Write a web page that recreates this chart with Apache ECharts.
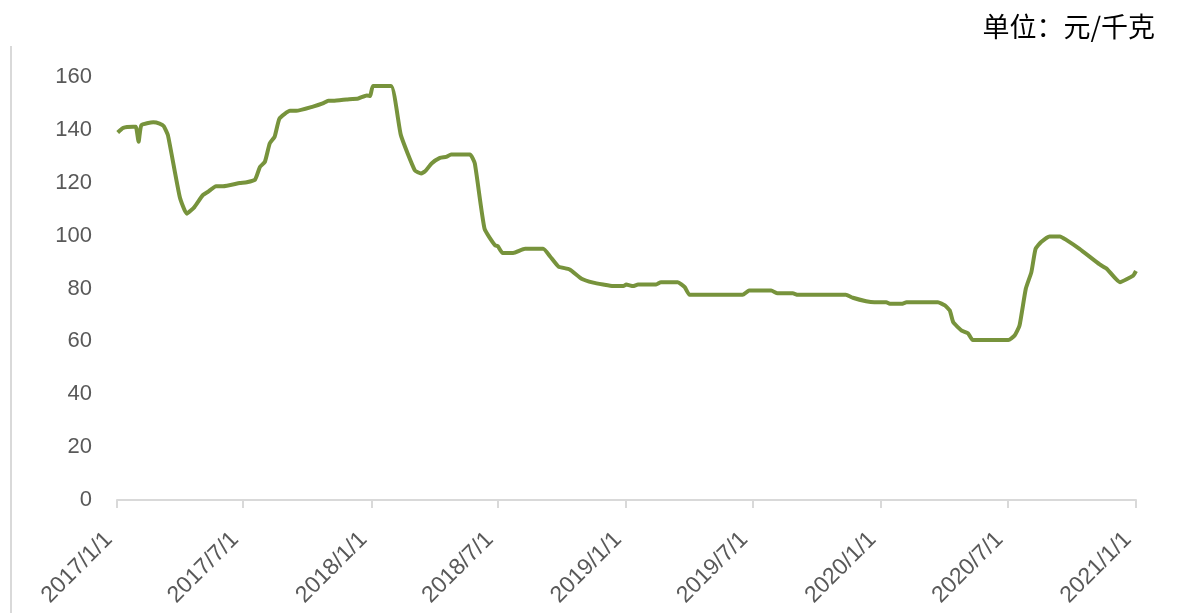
<!DOCTYPE html>
<html>
<head>
<meta charset="utf-8">
<script src="https://cdn.jsdelivr.net/npm/echarts@6/dist/echarts.min.js"></script>
<style>
  html, body { margin: 0; padding: 0; background: #fff; }
  #main { width: 1183px; height: 613px; }
</style>
</head>
<body>
<div id="main"></div>
<script>
// 日期与价格（元/千克）
var dates = [
  '2017-01-02', '2017-01-10', '2017-01-24', '2017-01-28', '2017-02-01', '2017-02-05',
  '2017-02-22', '2017-03-03', '2017-03-09', '2017-03-15', '2017-04-01', '2017-04-11',
  '2017-04-22', '2017-05-04', '2017-05-11', '2017-05-23', '2017-06-02', '2017-06-26',
  '2017-07-06', '2017-07-18', '2017-07-25', '2017-08-01', '2017-08-08', '2017-08-15',
  '2017-08-22', '2017-09-06', '2017-09-15', '2017-10-09', '2017-10-23', '2017-10-31',
  '2017-11-07', '2017-11-26', '2017-12-13', '2017-12-25', '2017-12-30', '2018-01-03',
  '2018-01-29', '2018-02-12', '2018-03-04', '2018-03-13', '2018-03-20', '2018-03-28',
  '2018-04-09', '2018-04-18', '2018-04-25', '2018-05-22', '2018-05-29', '2018-06-12',
  '2018-06-27', '2018-07-01', '2018-07-08', '2018-07-23', '2018-08-09', '2018-09-04',
  '2018-09-14', '2018-09-26', '2018-10-12', '2018-10-29', '2018-11-15', '2018-11-29',
  '2018-12-13', '2018-12-28', '2019-01-01', '2019-01-11', '2019-01-18', '2019-02-13',
  '2019-02-20', '2019-03-16', '2019-03-26', '2019-04-02', '2019-06-17', '2019-06-26',
  '2019-07-28', '2019-08-06', '2019-08-28', '2019-09-04', '2019-11-12', '2019-11-22',
  '2019-12-11', '2019-12-23', '2020-01-09', '2020-01-14', '2020-01-31', '2020-02-07',
  '2020-03-23', '2020-04-02', '2020-04-09', '2020-04-14', '2020-04-26', '2020-05-05',
  '2020-05-12', '2020-07-02', '2020-07-11', '2020-07-18', '2020-07-27', '2020-08-04',
  '2020-08-10', '2020-08-18', '2020-08-30', '2020-09-14', '2020-09-23', '2020-10-12',
  '2020-11-10', '2020-11-20', '2020-12-09', '2020-12-28', '2021-01-01'
];
var prices = [
  139.0, 140.8, 141.2, 141.2, 135.5, 141.8,
  142.9, 142.4, 141.4, 138.0, 114.6, 108.3,
  110.8, 115.3, 116.5, 118.7, 118.7, 119.9,
  120.2, 121.2, 126.0, 127.9, 134.9, 137.4,
  144.3, 147.2, 147.2, 148.8, 150.0, 151.0,
  151.0, 151.5, 151.9, 153.0, 152.8, 156.6,
  156.6, 138.0, 124.7, 123.5, 124.7, 127.3,
  129.4, 129.8, 130.7, 130.7, 127.3, 102.6,
  96.3, 96.0, 93.4, 93.4, 95.0, 95.0,
  92.1, 88.3, 87.2, 83.7, 82.2, 81.5,
  80.9, 80.9, 81.5, 80.9, 81.5, 81.5,
  82.4, 82.4, 80.5, 77.6, 77.6, 79.2,
  79.2, 78.2, 78.2, 77.6, 77.6, 76.5,
  75.2, 74.8, 74.8, 74.2, 74.2, 74.8,
  74.8, 73.6, 71.7, 67.2, 64.1, 63.1,
  60.5, 60.5, 62.2, 66.0, 79.9, 86.2,
  95.0, 97.6, 99.7, 99.7, 98.4, 95.0,
  89.1, 87.5, 82.4, 84.9, 86.6
];
var tickDates = [
  '2017-01-01', '2017-07-01', '2018-01-01', '2018-07-01', '2019-01-01',
  '2019-07-01', '2020-01-01', '2020-07-01', '2021-01-01'
];
var tickLabels = [
  '2017/1/1', '2017/7/1', '2018/1/1', '2018/7/1', '2019/1/1',
  '2019/7/1', '2020/1/1', '2020/7/1', '2021/1/1'
];

// 转成距 2017/1/1 的天数，x 轴用数值轴
var DAY = 24 * 3600 * 1000;
var t0 = Date.UTC(2017, 0, 1);
var toDay = function (s) { return Math.round((new Date(s + 'T00:00:00Z').getTime() - t0) / DAY); };
var tickDays = tickDates.map(toDay);
var seriesData = dates.map(function (d, i) { return [toDay(d), prices[i]]; });

var myChart = echarts.init(document.getElementById('main'), null, { renderer: 'canvas' });
myChart.setOption({
  backgroundColor: '#fff',
  animation: false,
  title: {
    text: '单位：元/千克',
    right: 23,
    top: 8,
    textStyle: {
      color: '#000',
      fontFamily: 'Noto Sans CJK SC',
      fontSize: 27,
      fontWeight: 'normal'
    }
  },
  graphic: [{
    type: 'line',
    shape: { x1: 11, y1: 46, x2: 11, y2: 613 },
    style: { stroke: '#d9d9d9', lineWidth: 2 }
  }],
  grid: {
    left: 117,
    right: 47,
    top: 77,
    bottom: 113
  },
  xAxis: {
    type: 'value',
    min: tickDays[0],
    max: tickDays[tickDays.length - 1],
    axisLine: { lineStyle: { color: '#d9d9d9', width: 2 } },
    axisTick: {
      show: true,
      customValues: tickDays,
      length: 8,
      lineStyle: { color: '#d9d9d9', width: 2 }
    },
    splitLine: { show: false },
    axisLabel: {
      customValues: tickDays,
      rotate: 45,
      margin: 44,
      verticalAlign: 'bottom',
      color: '#595959',
      fontFamily: 'Liberation Sans',
      fontSize: 23,
      formatter: function (value) {
        var idx = tickDays.indexOf(value);
        return idx >= 0 ? tickLabels[idx] : '';
      }
    }
  },
  yAxis: {
    type: 'value',
    min: 0,
    max: 160,
    interval: 20,
    axisLine: { show: false },
    axisTick: { show: false },
    splitLine: { show: false },
    axisLabel: {
      margin: 25,
      color: '#595959',
      fontFamily: 'Liberation Sans',
      fontSize: 22
    }
  },
  series: [{
    type: 'line',
    data: seriesData,
    showSymbol: false,
    smooth: 0.15,
    lineStyle: { color: '#77933c', width: 4 },
    itemStyle: { color: '#77933c' }
  }]
});
</script>
</body>
</html>
